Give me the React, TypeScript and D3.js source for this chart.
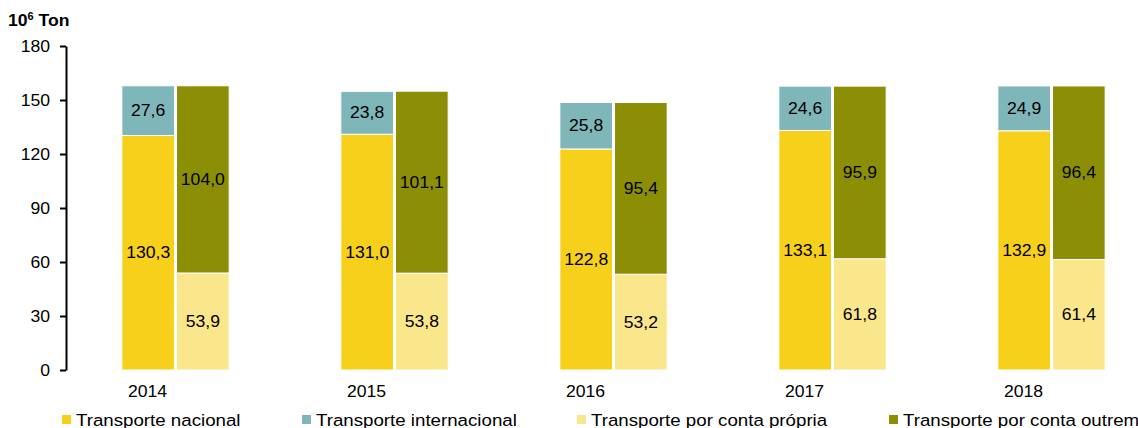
import React, { useEffect, useRef } from "react";
import * as d3 from "d3";

const years = ["2014", "2015", "2016", "2017", "2018"];
const nacional = [130.3, 131.0, 122.8, 133.1, 132.9];
const internacional = [27.6, 23.8, 25.8, 24.6, 24.9];
const propria = [53.9, 53.8, 53.2, 61.8, 61.4];
const outrem = [104.0, 101.1, 95.4, 95.9, 96.4];
const yTicks = [0, 30, 60, 90, 120, 150, 180];
const legendLabels = [
  "Transporte nacional",
  "Transporte internacional",
  "Transporte por conta própria",
  "Transporte por conta outrem",
];

const colors = ["#f6d01a", "#7fb6b9", "#fae68b", "#8c8f06"];

const App: React.FC = () => {
  const svgRef = useRef<SVGSVGElement>(null);
  const width = 1138;
  const height = 428;
  const font = "'Liberation Sans', Arial, sans-serif";
  const sx = 1.1; // text in the original is a bit wider

  useEffect(() => {
    document.body.style.margin = "0";
    const svg = d3.select(svgRef.current);
    svg.selectAll("*").remove();

    const label = (
      parent: d3.Selection<any, unknown, null, undefined>,
      tx: number,
      ty: number,
      txt: string,
      size: number,
      anchor = "start"
    ) =>
      parent
        .append("g")
        .attr("transform", `translate(${tx},${ty}) scale(${sx},1)`)
        .append("text")
        .attr("text-anchor", anchor)
        .attr("font-family", font)
        .attr("font-size", size)
        .attr("fill", "#000")
        .text(txt);

    const x = d3
      .scaleBand()
      .domain(years)
      .range([66, 1161])
      .paddingInner(0.51)
      .paddingOuter(0.255);
    const y = d3.scaleLinear().domain([0, 180]).range([370, 46]);

    // y axis
    const yAxis = svg
      .append("g")
      .attr("transform", "translate(66,0)")
      .call(
        d3.axisLeft(y).tickValues(yTicks).tickSize(6).tickFormat(() => "")
          .tickSizeOuter(0)
      );
    yAxis.select(".domain").attr("stroke", "#000").attr("stroke-width", 2);
    yAxis.selectAll(".tick line").attr("stroke", "#000").attr("stroke-width", 2);
    yTicks.forEach((t) => {
      label(svg, 50, y(t), String(t), 16, "end").attr("dy", "0.35em");
    });

    const title = svg
      .append("g")
      .attr("transform", `translate(8,26) scale(${sx},1)`)
      .append("text")
      .attr("font-family", font)
      .attr("font-size", 16)
      .attr("font-weight", "bold");
    title.append("tspan").text("10");
    title.append("tspan").attr("dy", -6).attr("font-size", 10).text("6");
    title.append("tspan").attr("dy", 6).text(" Ton");

    const bw = x.bandwidth() / 2;
    const fmt = (v: number) => v.toFixed(1).replace(".", ",");

    const stacks = [
      { offset: 0, parts: [{ vals: nacional, c: 0 }, { vals: internacional, c: 1 }] },
      { offset: bw + 1, parts: [{ vals: propria, c: 2 }, { vals: outrem, c: 3 }] },
    ];

    const g = svg.append("g");
    years.forEach((yr, i) => {
      const x0 = x(yr)!;
      stacks.forEach((s) => {
        let base = 0;
        s.parts.forEach((p) => {
          const v = p.vals[i];
          const top = base + v;
          g.append("rect")
            .attr("x", x0 + s.offset)
            .attr("y", y(top))
            .attr("width", bw - 1)
            .attr("height", y(base) - y(top))
            .attr("fill", colors[p.c])
            .attr("stroke", "#fff")
            .attr("stroke-width", 1);
          label(g, x0 + s.offset + (bw - 1) / 2, y(base + v / 2), fmt(v), 16, "middle")
            .attr("dy", "0.35em");
          base = top;
        });
      });

      label(svg, x0 + x.bandwidth() / 2 - 28, 397, yr, 16, "middle");
    });

    // legend
    const legendX = [62, 302, 577, 889];
    const lg = svg.append("g");
    legendLabels.forEach((lab, i) => {
      lg.append("rect")
        .attr("x", legendX[i])
        .attr("y", 415)
        .attr("width", 9)
        .attr("height", 9)
        .attr("fill", colors[i]);
      label(lg, legendX[i] + 14, 426, lab, 17);
    });
  }, []);

  return (
    <svg
      ref={svgRef}
      width={width}
      height={height}
      style={{ position: "absolute", left: 0, top: 0, background: "#fff" }}
    ></svg>
  );
};

export default App;
